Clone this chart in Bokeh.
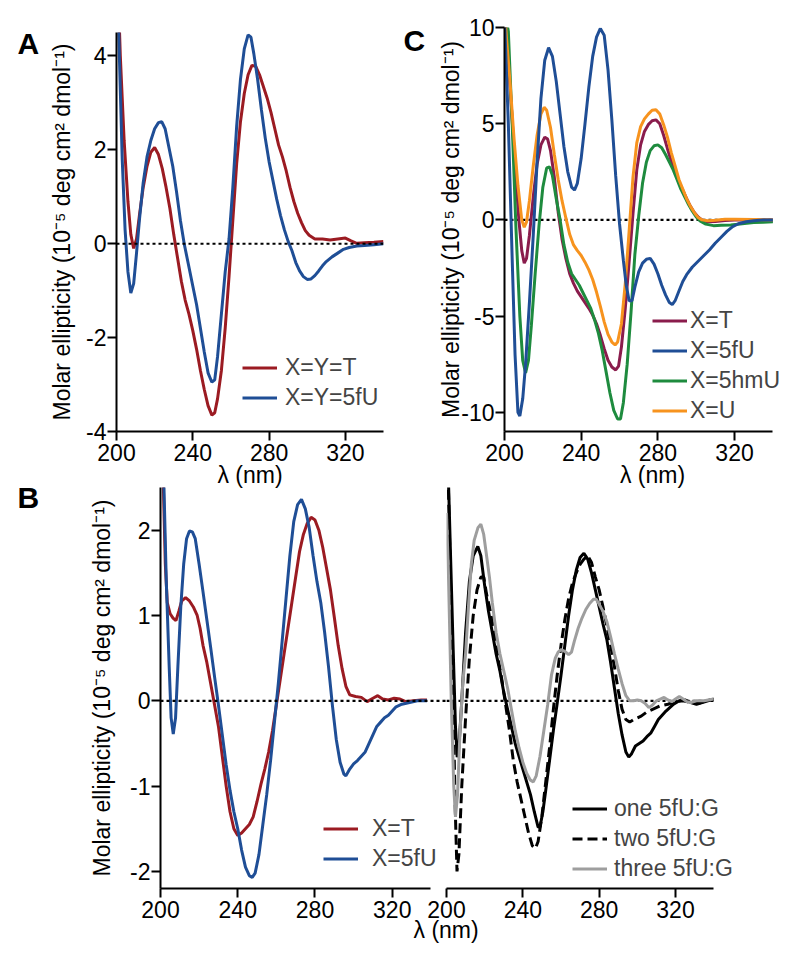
from bokeh.plotting import figure
from bokeh.models import Range1d, FixedTicker, Span, Legend, LegendItem, Title, Label
from bokeh.layouts import row, column
from bokeh.embed import file_html
from bokeh.resources import INLINE

# ---------------- data ----------------
x_axis_min, x_axis_max = 200, 340
x_ticks = [200, 240, 280, 320]
x_tick_labels = ["200", "240", "280", "320"]
x_label = "λ (nm)"
y_label = "Molar ellipticity (10⁻⁵ deg cm² dmol⁻¹)"

# Panel A
a_y_ticks = [-4, -2, 0, 2, 4]
a_y_tick_labels = ["-4", "-2", "0", "2", "4"]
a_T_nm = [200, 202, 204, 206, 207.5, 209, 210.5, 212, 214, 216, 218, 220, 222, 224, 226, 228, 230, 232, 234, 236, 238, 240, 242, 244, 246, 248, 250, 251.5, 253, 255, 257, 259, 261, 263, 265, 267, 269, 271, 273, 275, 277, 279, 281, 283, 285, 287, 289, 291, 293, 295, 297, 299, 301, 304, 308, 312, 316, 320, 323, 326, 330, 335, 340]
a_T_val = [6.5, 4.0, 2.2, 0.9, 0.2, -0.1, 0.1, 0.6, 1.2, 1.65, 1.95, 2.05, 1.9, 1.6, 1.2, 0.75, 0.2, -0.3, -0.8, -1.2, -1.5, -1.85, -2.25, -2.7, -3.1, -3.45, -3.65, -3.6, -3.3, -2.7, -1.8, -0.7, 0.5, 1.7, 2.6, 3.2, 3.6, 3.8, 3.78, 3.6, 3.35, 3.1, 2.8, 2.45, 2.1, 1.85, 1.55, 1.2, 0.9, 0.65, 0.45, 0.28, 0.18, 0.1, 0.1, 0.08, 0.1, 0.12, 0.06, 0.01, 0.02, 0.03, 0.05]
a_5fU_nm = [200, 201.5, 203, 204.5, 206, 207.5, 209, 210.5, 212, 214, 216, 218, 220, 222, 223.7, 225.5, 227.5, 229.5, 231.5, 233.5, 235.5, 237.5, 240, 242, 244, 246, 248, 250, 251.5, 253, 255, 257, 259, 261, 263, 265, 267, 269, 270.5, 272, 274, 276, 278, 280, 282, 284, 286, 288, 290, 292, 294, 296, 298, 300, 302, 304, 306, 308, 310, 313, 316, 319, 322, 326, 330, 335, 340]
a_5fU_val = [6.5, 4.0, 1.8, 0.3, -0.6, -1.05, -0.85, -0.2, 0.5, 1.3, 1.85, 2.2, 2.45, 2.58, 2.6, 2.45, 2.05, 1.65, 1.1, 0.5, 0.0, -0.4, -0.9, -1.3, -1.8, -2.3, -2.75, -2.95, -2.9, -2.4, -1.5, -0.6, 0.1, 1.2, 2.5, 3.5, 4.15, 4.45, 4.4, 4.05, 3.5, 2.85, 2.25, 1.75, 1.35, 0.95, 0.6, 0.3, 0.05, -0.15, -0.4, -0.58, -0.7, -0.76, -0.75, -0.68, -0.58, -0.47, -0.38, -0.28, -0.2, -0.12, -0.08, -0.05, -0.04, -0.02, 0.0]

# Panel C
c_y_ticks = [-10, -5, 0, 5, 10]
c_y_tick_labels = ["-10", "-5", "0", "5", "10"]
c_T_nm = [200, 201.5, 203.5, 205.5, 207.5, 209, 210.3, 211.5, 213, 215, 217, 219, 221, 222.5, 224, 226, 228, 230, 232, 234, 236, 238, 240, 242, 244, 246, 248, 250, 252, 254, 256, 258, 259.5, 261, 263, 265, 267, 269, 271, 273, 275, 277, 279, 281, 283, 285, 287, 289, 291, 293, 295, 297, 299, 301, 303, 306, 310, 315, 320, 330, 340]
c_T_val = [11, 9.0, 6.0, 2.8, 0.0, -1.6, -2.25, -2.0, -0.8, 1.2, 2.9, 3.9, 4.3, 4.2, 3.6, 2.2, 0.4, -1.0, -2.0, -2.8, -3.3, -3.7, -4.0, -4.3, -4.6, -4.95, -5.4, -6.0, -6.7, -7.3, -7.65, -7.8, -7.6, -6.6, -4.6, -2.2, 0.3, 2.6, 3.9, 4.6, 4.95, 5.15, 5.2, 5.0, 4.4, 3.7, 3.05, 2.5, 1.95, 1.55, 1.1, 0.7, 0.38, 0.15, 0.0, -0.1, -0.08, -0.03, 0.0, 0.0, 0.0]
c_5fU_nm = [200, 202, 204, 205.5, 207, 208, 209.5, 211, 213, 215, 217, 219, 221, 223, 225, 227, 229, 231, 233, 235, 236.5, 238, 240, 242, 244, 246, 248, 250, 252, 254, 256, 258, 260, 262, 263.5, 265, 266.5, 268, 270, 272, 274, 276, 278, 280, 282, 284, 286, 287.5, 289, 291, 293, 295, 298, 301, 304, 307, 310, 313, 316, 319, 322, 326, 330, 335, 340]
c_5fU_val = [10.5, 5.0, -2.0, -7.0, -10.0, -10.2, -9.3, -7.5, -4.3, -0.8, 3.0, 6.3, 8.3, 8.95, 8.5, 7.2, 5.5, 3.8, 2.5, 1.7, 1.55, 1.9, 3.2, 5.0, 6.9, 8.5, 9.5, 9.95, 9.6, 7.8, 5.2, 2.3, -0.2, -2.1, -3.4, -4.2, -4.2, -3.5, -2.7, -2.25, -2.05, -2.0, -2.3, -2.8, -3.4, -3.9, -4.3, -4.4, -4.2, -3.7, -3.2, -2.85, -2.45, -2.15, -1.85, -1.55, -1.2, -0.9, -0.6, -0.35, -0.2, -0.1, -0.05, 0.0, 0.0]
c_5hmU_nm = [200, 202, 204, 206, 208, 209.5, 211, 212.5, 214, 216, 218, 220, 222, 223.5, 225, 227, 229, 231, 233, 235, 237, 239, 241, 243, 245, 247, 249, 251, 253, 255, 257, 259, 260.5, 262, 264, 266, 268, 270, 272, 274, 276, 278, 280, 282, 284, 286, 288, 290, 292, 294, 296, 298, 300, 302, 305, 309, 313, 318, 324, 330, 335, 340]
c_5hmU_val = [11, 9.8, 5.0, -0.5, -5.0, -7.3, -7.95, -7.3, -5.5, -2.8, -0.3, 1.7, 2.7, 2.75, 2.3, 1.1, 0.0, -1.3, -2.2, -2.8, -3.1, -3.4, -3.8, -4.2, -4.6, -5.2, -5.9, -6.8, -7.9, -9.0, -9.9, -10.35, -10.35, -9.5, -7.5, -4.8, -1.8, 0.2, 1.9, 3.0, 3.6, 3.85, 3.9, 3.75, 3.4, 3.0, 2.6, 2.1, 1.6, 1.2, 0.8, 0.45, 0.15, -0.05, -0.22, -0.3, -0.28, -0.26, -0.2, -0.14, -0.12, -0.1]
c_U_nm = [200, 201, 203, 205, 207, 209, 210.3, 211.5, 213, 215, 217, 219, 220.7, 222, 224, 226, 228, 230, 232, 234, 236, 238, 240, 242, 244, 246, 248, 250, 252, 254, 256, 257.7, 259, 261, 263, 265, 267, 269, 271, 273, 275, 277, 279, 281, 283, 285, 287, 289, 291, 293, 295, 297, 299, 301, 303, 306, 310, 315, 320, 330, 340]
c_U_val = [11, 9.5, 7.0, 4.2, 1.8, 0.0, -0.38, -0.1, 1.0, 2.8, 4.4, 5.5, 5.85, 5.7, 4.8, 3.4, 2.1, 1.0, 0.1, -0.75, -1.3, -1.6, -1.85, -2.2, -2.6, -3.1, -3.75, -4.5, -5.3, -5.95, -6.35, -6.5, -6.35, -5.4, -3.3, -0.6, 2.2, 4.0, 4.85, 5.25, 5.5, 5.7, 5.73, 5.5, 4.95, 4.3, 3.5, 2.8, 2.1, 1.6, 1.1, 0.7, 0.38, 0.12, 0.0, -0.05, -0.02, 0.03, 0.03, 0.02, 0.0]

# Panel B
b_y_ticks = [-2, -1, 0, 1, 2]
b_y_tick_labels = ["-2", "-1", "0", "1", "2"]
b_T_nm = [200, 201.5, 202.5, 203.5, 205, 206.5, 208, 209.5, 211, 213, 215, 217, 219, 220.5, 222, 224, 226, 228, 230, 232, 234, 236, 238, 240, 242, 244, 246, 248, 250, 252, 254, 256, 258, 260, 262, 264, 266, 268, 270, 272, 274, 276, 278, 280, 282, 284, 286, 288, 290, 292, 294, 296, 298, 301, 304, 307, 310, 312.5, 315, 318, 321, 324, 327, 331, 335, 338]
b_T_val = [3.5, 2.5, 1.6, 1.15, 1.02, 0.97, 0.94, 1.05, 1.17, 1.21, 1.17, 1.1, 1.0, 0.85, 0.65, 0.45, 0.2, -0.05, -0.3, -0.65, -1.0, -1.3, -1.5, -1.58, -1.55, -1.5, -1.45, -1.36, -1.18, -0.98, -0.8, -0.6, -0.35, -0.05, 0.25, 0.55, 0.85, 1.15, 1.45, 1.75, 1.95, 2.08, 2.15, 2.12, 2.0, 1.8, 1.55, 1.3, 0.98, 0.65, 0.38, 0.17, 0.07, 0.05, 0.04, -0.01, 0.03, 0.06, 0.02, 0.01, 0.03, 0.02, -0.01, 0.0, 0.01, 0.01]
b_5fU_nm = [200, 201.8, 203, 204.5, 205.5, 206.6, 207.8, 209, 210.5, 212, 213.5, 215, 216.5, 218, 220, 222, 224, 226, 228, 230, 232, 234, 236, 238, 240, 242, 244, 246, 247.5, 249, 251, 253, 255, 257, 259, 261, 263, 265, 267, 269, 271, 273, 275, 277, 279, 281, 283, 285, 287, 289, 291, 293, 295, 296, 298, 300, 302, 304, 306, 308, 310, 312, 314, 316, 318, 320, 322, 325, 329, 333, 338]
b_5fU_val = [3.5, 2.5, 1.4, 0.4, -0.2, -0.39, -0.2, 0.4, 1.1, 1.6, 1.9, 1.99, 1.98, 1.9, 1.6, 1.28, 0.95, 0.62, 0.28, -0.05, -0.4, -0.75, -1.05, -1.3, -1.5, -1.75, -1.95, -2.05, -2.07, -2.02, -1.8, -1.45, -1.1, -0.7, -0.25, 0.2, 0.7, 1.2, 1.7, 2.1, 2.3, 2.36, 2.25, 2.03, 1.7, 1.4, 1.15, 0.8, 0.4, -0.05, -0.45, -0.72, -0.86, -0.88, -0.8, -0.74, -0.7, -0.65, -0.6, -0.5, -0.4, -0.3, -0.25, -0.2, -0.17, -0.12, -0.07, -0.04, -0.02, 0.0, 0.0]
b_one_nm = [200.5, 202, 203.5, 204.7, 205.6, 206.5, 208, 210, 212, 214, 216.4, 218, 220, 222, 224, 226, 228, 230, 232, 234, 236, 238, 240, 242, 244, 246, 248, 249, 250.5, 252, 254, 256, 258, 260, 262, 264, 266, 268, 270, 272, 274, 276, 278, 280, 282, 284, 286, 288, 290, 292, 294, 295.5, 297, 299, 301, 303, 305, 307, 309, 311, 313, 315, 317, 319, 322, 325, 328, 331, 334, 337, 340]
b_one_val = [3.0, 1.8, 0.6, -0.3, -0.66, -0.55, 0.0, 0.8, 1.4, 1.7, 1.81, 1.7, 1.35, 1.05, 0.8, 0.55, 0.35, 0.1, -0.1, -0.3, -0.5, -0.65, -0.8, -0.95, -1.1, -1.3, -1.48, -1.48, -1.3, -1.05, -0.7, -0.35, -0.03, 0.3, 0.65, 1.0, 1.3, 1.53, 1.68, 1.73, 1.66, 1.5, 1.3, 1.1, 0.9, 0.72, 0.45, 0.15, -0.15, -0.4, -0.6, -0.66, -0.62, -0.53, -0.5, -0.47, -0.42, -0.38, -0.3, -0.22, -0.17, -0.12, -0.08, -0.04, 0.0, 0.01, -0.02, -0.04, -0.02, 0.0, 0.02]
b_two_nm = [200.5, 202, 203.5, 204.5, 205.5, 206.5, 208, 210, 212, 214, 216, 218, 219.5, 221, 223, 225, 227, 229, 231, 233, 235, 237, 239, 241, 243, 245, 246.6, 248, 250, 252, 254, 256, 258, 260, 262, 264, 266, 268, 270, 272, 274, 276, 278, 280, 282, 284, 286, 288, 290, 292, 294, 296, 298, 300, 302, 305, 308, 312, 316, 320, 324, 328, 332, 336, 340]
b_two_val = [3.0, 1.5, 0.0, -1.2, -2.0, -1.8, -1.0, -0.2, 0.5, 1.0, 1.3, 1.45, 1.45, 1.25, 1.05, 0.8, 0.5, 0.25, -0.05, -0.35, -0.7, -0.95, -1.15, -1.35, -1.55, -1.7, -1.73, -1.65, -1.35, -0.95, -0.55, -0.1, 0.3, 0.65, 0.95, 1.2, 1.38, 1.5, 1.6, 1.66, 1.7, 1.62, 1.45, 1.3, 1.1, 0.88, 0.65, 0.4, 0.12, -0.1, -0.22, -0.25, -0.22, -0.2, -0.18, -0.13, -0.1, -0.06, -0.04, -0.01, 0.0, -0.02, -0.03, 0.0, 0.02]
b_three_nm = [200, 201, 202.5, 203.8, 204.7, 205.8, 207, 208.5, 210, 211.5, 213, 214.5, 216.5, 218, 219.5, 221, 222.5, 224, 226, 228, 230, 232, 234, 236, 238, 240, 242, 244, 245.5, 247, 249, 251, 253, 255, 257, 258.5, 260, 262, 264, 265.5, 267, 269, 271, 273, 275, 277, 278.5, 280, 282, 284, 286, 288, 290, 292, 294, 296, 298, 300, 302, 304, 306, 308, 310, 312, 314, 316, 318, 320, 322, 324, 326, 328, 331, 335, 340]
b_three_val = [2.2, 1.5, 0.0, -1.0, -1.36, -1.1, -0.4, 0.2, 0.55, 1.1, 1.6, 1.88, 2.03, 2.07, 1.95, 1.7, 1.45, 1.15, 0.8, 0.55, 0.35, 0.15, -0.1, -0.35, -0.55, -0.72, -0.85, -0.93, -0.95, -0.88, -0.65, -0.35, -0.05, 0.3, 0.5, 0.57, 0.6, 0.58, 0.54, 0.57, 0.7, 0.85, 0.97, 1.07, 1.14, 1.19, 1.19, 1.13, 1.05, 0.93, 0.75, 0.55, 0.37, 0.2, 0.06, 0.0, 0.0, 0.01, 0.0, -0.03, -0.08, -0.05, 0.0, 0.02, 0.04, 0.01, -0.01, 0.02, 0.05, 0.02, -0.01, -0.02, 0.0, 0.0, 0.02]

# ---------------- styling ----------------
FONT = "Liberation Sans"
FS = "23px"
RED = "#9b1b22"
BLUE = "#1f4e96"
MAROON = "#8a1c4c"
GREEN = "#1e8b3e"
ORANGE = "#f7931e"
GRAY = "#9e9e9e"
LW = 3


def make_fig(w, h, xr, yr, bl, br, bt, bb, span=True):
    p = figure(width=w, height=h, x_range=xr, y_range=yr,
               output_backend="svg", toolbar_location=None,
               min_border_left=bl, min_border_right=br,
               min_border_top=bt, min_border_bottom=bb)
    p.frame_align = False
    p.outline_line_color = None
    p.grid.visible = False
    p.background_fill_color = None
    p.border_fill_color = None
    for ax in p.axis:
        ax.axis_line_width = 2
        ax.axis_line_color = "black"
        ax.major_tick_line_width = 2
        ax.major_tick_line_color = "black"
        ax.major_tick_out = 9
        ax.major_tick_in = 0
        ax.minor_tick_out = 0
        ax.minor_tick_in = 0
        ax.major_label_text_font = FONT
        ax.major_label_text_font_size = FS
        ax.major_label_text_color = "black"
        ax.axis_label_text_font = FONT
        ax.axis_label_text_font_size = FS
        ax.axis_label_text_font_style = "normal"
        ax.axis_label_text_color = "black"
    p.xaxis.ticker = FixedTicker(ticks=x_ticks)
    p.xaxis.major_label_overrides = dict(zip(x_ticks, x_tick_labels))
    p.xaxis.major_label_standoff = 3
    p.xaxis.bounds = (x_axis_min, x_axis_max)
    p.yaxis.major_label_standoff = 1
    if span:
        p.add_layout(Span(location=0, dimension="width", line_color="black",
                          line_width=2.2, line_dash="3 3"))
    else:
        p.line([x_axis_min, x_axis_max], [0, 0], line_color="black",
               line_width=2.2, line_dash="3 3")
    return p


def set_y(p, ticks, labels, standoff):
    p.yaxis.ticker = FixedTicker(ticks=ticks)
    p.yaxis.major_label_overrides = dict(zip(ticks, labels))
    p.yaxis.axis_label = y_label
    p.yaxis.axis_label_standoff = standoff


def add_legend(p, items, loc, standoff):
    lg = Legend(items=[LegendItem(label=l, renderers=[r]) for l, r in items],
                location=loc, border_line_color=None, background_fill_alpha=0,
                padding=0, margin=0, spacing=3, glyph_width=35, glyph_height=27,
                label_height=27, label_standoff=standoff,
                label_text_font=FONT, label_text_font_size=FS)
    p.add_layout(lg)


LETTER_W, LETTER_H = 50, 60


def letter_fig(text, x, y):
    # small transparent canvas that only carries a panel letter (data units = pixels)
    f = figure(width=LETTER_W, height=LETTER_H,
               x_range=Range1d(0, LETTER_W), y_range=Range1d(0, LETTER_H),
               output_backend="svg", toolbar_location=None,
               x_axis_type=None, y_axis_type=None, min_border=0)
    f.frame_align = False
    f.outline_line_color = None
    f.grid.visible = False
    f.background_fill_color = None
    f.border_fill_color = None
    f.add_layout(Label(x=x, y=y, text=text,
                       text_font=FONT, text_font_size="30px", text_font_style="bold",
                       text_color="black", text_baseline="alphabetic", text_align="left"))
    return f


# Panel A
pA = make_fig(400, 490, Range1d(200, 340), Range1d(-4.0, 4.5), 116, 17, 32, 57)
set_y(pA, a_y_ticks, a_y_tick_labels, 8)
pA.xaxis.axis_label = x_label
pA.xaxis.axis_label_standoff = -2
rA1 = pA.line(a_T_nm, a_T_val, line_color=RED, line_width=LW)
rA2 = pA.line(a_5fU_nm, a_5fU_val, line_color=BLUE, line_width=LW)
add_legend(pA, [("X=Y=T", rA1), ("X=Y=5fU", rA2)], (126, 20), 8)
pA.margin = (0, 0, 0, -LETTER_W)
lA = letter_fig("A", 17, LETTER_H - 43)

# Panel C
pC = make_fig(400, 490, Range1d(200, 354.4), Range1d(-11, 10), 104, 0, 27, 57, span=False)
set_y(pC, c_y_ticks, c_y_tick_labels, -6)
pC.xaxis.axis_label = x_label
pC.xaxis.axis_label_standoff = -2
rC1 = pC.line(c_T_nm, c_T_val, line_color=MAROON, line_width=LW)
rC3 = pC.line(c_5hmU_nm, c_5hmU_val, line_color=GREEN, line_width=LW)
rC4 = pC.line(c_U_nm, c_U_val, line_color=ORANGE, line_width=LW)
rC2 = pC.line(c_5fU_nm, c_5fU_val, line_color=BLUE, line_width=LW)
add_legend(pC, [("X=T", rC1), ("X=5fU", rC2), ("X=5hmU", rC3), ("X=U", rC4)], (148, 7), 3)
pC.margin = (0, 0, 0, -LETTER_W)
lC = letter_fig("C", 3, LETTER_H - 40)

# Panel B
b_yr = Range1d(-2.2, 2.5)
pB1 = make_fig(446, 481, Range1d(200, 348.1), b_yr, 160, 0, 19, 61)
set_y(pB1, b_y_ticks, b_y_tick_labels, 12)
rB1 = pB1.line(b_T_nm, b_T_val, line_color=RED, line_width=LW)
rB2 = pB1.line(b_5fU_nm, b_5fU_val, line_color=BLUE, line_width=LW)
add_legend(pB1, [("X=T", rB1), ("X=5fU", rB2)], (163, 16), 14)
pB1.margin = (0, 0, 0, -LETTER_W)
lB = letter_fig("B", 17, LETTER_H - 29)

pB2 = make_fig(400, 481, Range1d(200, 385.5), b_yr, 46, 0, 19, 61, span=False)
pB2.yaxis.visible = False
pB2.margin = (0, 0, 0, -46)
rB3 = pB2.line(b_one_nm, b_one_val, line_color="black", line_width=LW)
rB4 = pB2.line(b_two_nm, b_two_val, line_color="black", line_width=LW, line_dash="10 5")
rB5 = pB2.line(b_three_nm, b_three_val, line_color=GRAY, line_width=LW)
add_legend(pB2, [("one 5fU:G", rB3), ("two 5fU:G", rB4), ("three 5fU:G", rB5)], (126, 6), 7)
pB2.add_layout(Title(text=x_label, align="left", offset=-33, standoff=-12,
                     text_font=FONT, text_font_size=FS, text_font_style="normal",
                     text_color="black"), "below")

top = row(lA, pA, lC, pC)
bottom = row(lB, pB1, pB2, margin=(-22, 0, 0, 0))
layout = column(top, bottom)

open("out.html", "w").write(file_html(layout, INLINE))
